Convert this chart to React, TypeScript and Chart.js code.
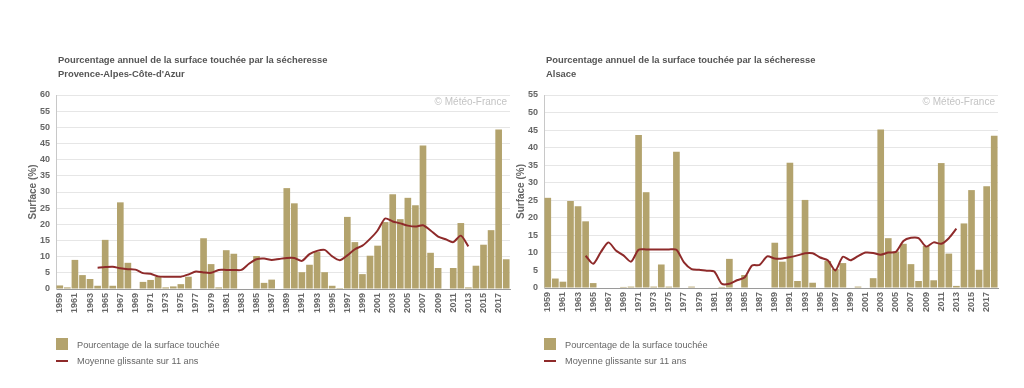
import React, { useEffect, useRef } from "react";
import { Chart, registerables } from "chart.js";

Chart.register(...registerables);

const years = [
  "1959", "1960", "1961", "1962", "1963", "1964", "1965", "1966", "1967", "1968",
  "1969", "1970", "1971", "1972", "1973", "1974", "1975", "1976", "1977", "1978",
  "1979", "1980", "1981", "1982", "1983", "1984", "1985", "1986", "1987", "1988",
  "1989", "1990", "1991", "1992", "1993", "1994", "1995", "1996", "1997", "1998",
  "1999", "2000", "2001", "2002", "2003", "2004", "2005", "2006", "2007", "2008",
  "2009", "2010", "2011", "2012", "2013", "2014", "2015", "2016", "2017", "2018",
];

const pacaSurface = [
  1.1, 0.5, 9.0, 4.3, 3.1, 1.0, 15.2, 1.0, 26.8, 8.1,
  0, 2.2, 2.8, 3.8, 0.5, 0.8, 1.5, 3.8, 0, 15.7,
  7.7, 0.5, 12.0, 10.9, 0, 0, 10.2, 1.9, 2.9, 0,
  31.2, 26.5, 5.2, 7.5, 11.5, 5.2, 1.0, 0.3, 22.3, 14.5,
  4.6, 10.3, 13.4, 20.7, 29.3, 21.6, 28.2, 25.9, 44.4, 11.2,
  6.5, 0, 6.5, 20.4, 0.5, 7.2, 13.7, 18.2, 49.3, 9.2,
];

const pacaAverage = [
  null, null, null, null, null, 6.6, 6.8, 6.9, 6.4, 6.1,
  6.0, 4.9, 4.7, 3.9, 3.8, 3.8, 3.8, 4.5, 5.4, 5.1,
  5.0, 5.9, 5.9, 5.9, 5.9, 7.8, 9.2, 9.4, 9.0, 9.3,
  9.6, 9.6, 8.7, 10.8, 11.8, 12.1, 10.1, 8.9, 10.4, 12.3,
  13.4, 15.5, 18.1, 21.8, 20.9, 20.3, 19.6, 19.3, 19.7, 18.1,
  16.2, 15.4, 14.5, 16.5, 13.2, null, null, null, null, null,
];

const alsaceSurface = [
  25.7, 2.7, 1.8, 24.8, 23.3, 19.0, 1.4, 0, 0, 0,
  0.3, 0.4, 43.6, 27.3, 0.4, 6.7, 0.4, 38.8, 0, 0.4,
  0, 0, 0, 0.3, 8.3, 0, 3.7, 0, 0, 0,
  12.9, 7.5, 35.7, 2.0, 25.1, 1.5, 0, 7.7, 5.4, 7.1,
  0, 0.4, 0, 2.8, 45.2, 14.2, 10.4, 12.6, 6.8, 2.0,
  12.0, 2.2, 35.6, 9.8, 0.6, 18.4, 27.9, 5.2, 29.0, 43.4,
];

const alsaceAverage = [
  null, null, null, null, null, 9.2, 6.9, 10.2, 13.0, 10.7,
  9.3, 7.5, 10.9, 11.0, 11.0, 11.0, 11.0, 10.9, 7.3, 5.4,
  5.2, 4.9, 4.7, 1.2, 1.2, 2.2, 3.0, 6.4, 6.6, 9.0,
  8.4, 8.4, 8.8, 9.3, 9.9, 9.9, 8.7, 7.9, 5.0, 8.9,
  7.9, 9.1, 10.1, 10.0, 9.5, 10.1, 10.3, 13.4, 14.3, 14.2,
  11.8, 13.0, 12.6, 14.2, 16.9, null, null, null, null, null,
];

const pacaYTicksMax = 60;
const alsaceYTicksMax = 55;

const chartTitle = "Pourcentage annuel de la surface touchée par la sécheresse";
const barLabel = "Pourcentage de la surface touchée";
const lineLabel = "Moyenne glissante sur 11 ans";
const yTitle = "Surface (%)";
const credit = "© Météo-France";

const BAR_COLOR = "#b3a36d";
const LINE_COLOR = "#8e2a2a";
const FONT = '"Liberation Sans", Arial, sans-serif';

type PanelProps = {
  left: number;
  region: string;
  surface: number[];
  average: (number | null)[];
  yMax: number;
  bottom: number;
};

function Panel({ left, region, surface, average, yMax, bottom }: PanelProps) {
  const ref = useRef<HTMLCanvasElement | null>(null);

  useEffect(() => {
    if (!ref.current) return;
    const chart = new Chart(ref.current, {
      type: "bar",
      data: {
        labels: years,
        datasets: [
          {
            type: "line",
            label: lineLabel,
            data: average,
            borderColor: LINE_COLOR,
            backgroundColor: LINE_COLOR,
            borderWidth: 2,
            pointRadius: 0,
            tension: 0.25,
            order: 0,
          } as any,
          {
            type: "bar",
            label: barLabel,
            data: surface,
            backgroundColor: BAR_COLOR,
            borderWidth: 0,
            barPercentage: 0.88,
            categoryPercentage: 1,
            order: 1,
          },
        ],
      },
      options: {
        animation: false,
        responsive: false,
        maintainAspectRatio: false,
        layout: { padding: { left: 0, right: 2, top: 95, bottom: 0 } },
        plugins: {
          legend: { display: false },
          tooltip: { enabled: false },
          title: { display: false },
        },
        scales: {
          x: {
            grid: { display: false, drawTicks: false },
            border: { display: true, color: "#9a9a9a", width: 1 },
            ticks: {
              autoSkip: false,
              maxRotation: 90,
              minRotation: 90,
              padding: 4,
              color: "#666",
              font: { family: FONT, size: 9, weight: "bold" },
              callback: (_v: any, i: number) => (i % 2 === 0 ? years[i] : ""),
            },
            afterFit: (s: any) => {
              s.height = 388 - bottom;
              s.paddingLeft = 0;
              s.paddingRight = 0;
            },
          },
          y: {
            min: 0,
            max: yMax,
            ticks: {
              stepSize: 5,
              padding: 6,
              color: "#666",
              font: { family: FONT, size: 9, weight: "bold" },
            },
            grid: { color: "#e6e6e6", drawTicks: false },
            border: { display: true, color: "#c8c8c8" },
            title: {
              display: true,
              text: yTitle,
              color: "#666",
              font: { family: FONT, size: 10, weight: "bold" },
              padding: { top: 27, bottom: 0 },
            },
            afterFit: (s: any) => {
              s.width = 56;
            },
          },
        },
      } as any,
    });
    return () => chart.destroy();
  }, []);

  return (
    <div style={{ position: "absolute", left, top: 0, width: 512, height: 388 }}>
      <canvas ref={ref} width={512} height={388} style={{ display: "block", position: "absolute", left: 0, top: 0 }} />
      <div
        style={{
          position: "absolute",
          left: 58,
          top: 53,
          fontFamily: FONT,
          fontWeight: "bold",
          fontSize: 9.4,
          lineHeight: "14px",
          color: "#555",
          whiteSpace: "nowrap",
        }}
      >
        <div>{chartTitle}</div>
        <div>{region}</div>
      </div>
      <div
        style={{
          position: "absolute",
          right: 5,
          top: 96,
          fontFamily: FONT,
          fontSize: 10,
          color: "#c4c4c4",
          whiteSpace: "nowrap",
        }}
      >
        {credit}
      </div>
      <div style={{ position: "absolute", left: 56, top: 338, width: 12, height: 12, background: BAR_COLOR }} />
      <div
        style={{
          position: "absolute",
          left: 77,
          top: 339,
          fontFamily: FONT,
          fontSize: 9.2,
          lineHeight: "12px",
          color: "#666",
          whiteSpace: "nowrap",
        }}
      >
        {barLabel}
      </div>
      <div style={{ position: "absolute", left: 56, top: 360, width: 12, height: 2, background: LINE_COLOR }} />
      <div
        style={{
          position: "absolute",
          left: 77,
          top: 355,
          fontFamily: FONT,
          fontSize: 9.2,
          lineHeight: "12px",
          color: "#666",
          whiteSpace: "nowrap",
        }}
      >
        {lineLabel}
      </div>
    </div>
  );
}

export default function App() {
  return (
    <div style={{ position: "fixed", left: 0, top: 0, width: 1024, height: 388, background: "#fff", overflow: "hidden" }}>
      <Panel left={0} region="Provence-Alpes-Côte-d'Azur" surface={pacaSurface} average={pacaAverage} yMax={pacaYTicksMax} bottom={289} />
      <Panel left={488} region="Alsace" surface={alsaceSurface} average={alsaceAverage} yMax={alsaceYTicksMax} bottom={288} />
    </div>
  );
}
